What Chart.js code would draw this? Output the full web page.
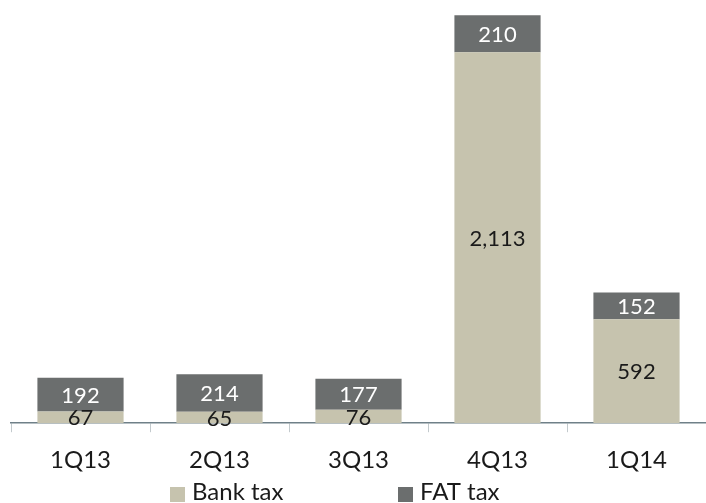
<!DOCTYPE html>
<html>
<head>
<meta charset="utf-8">
<script src="https://cdn.jsdelivr.net/npm/chart.js@4"></script>
<style>
  html, body { margin: 0; padding: 0; background: #fff; }
  #wrap { width: 706px; height: 503px; }
</style>
</head>
<body>
<div id="wrap"><canvas id="taxChart"></canvas></div>
<script>
var categories = ['1Q13', '2Q13', '3Q13', '4Q13', '1Q14'];
var bankTax = [67, 65, 76, 2113, 592];
var fatTax = [192, 214, 177, 210, 152];

var BANK_COLOR = '#c6c3ae';
var FAT_COLOR = '#6b6e6e';
var FONT = 'Lato, "Open Sans", sans-serif';

// value labels in the middle of each segment
var segmentLabels = {
  id: 'segmentLabels',
  afterDatasetsDraw: function (chart) {
    var ctx = chart.ctx;
    ctx.save();
    ctx.font = '22px ' + FONT;
    ctx.textAlign = 'center';
    ctx.textBaseline = 'middle';
    chart.data.datasets.forEach(function (ds, i) {
      var meta = chart.getDatasetMeta(i);
      meta.data.forEach(function (bar, j) {
        var y = (bar.y + bar.base) / 2;
        ctx.fillStyle = ds.labelColor;
        ctx.fillText(ds.data[j].toLocaleString('en-US'), bar.x, y + 1);
      });
    });
    ctx.restore();
  }
};

// legend laid out like the original (wide gap between entries)
var wideLegend = {
  id: 'wideLegend',
  afterDraw: function (chart) {
    var ctx = chart.ctx;
    var positions = [170, 398];
    ctx.save();
    ctx.font = '24px ' + FONT;
    ctx.textBaseline = 'alphabetic';
    ctx.textAlign = 'left';
    chart.data.datasets.forEach(function (ds, i) {
      var x = positions[i];
      ctx.fillStyle = ds.backgroundColor;
      ctx.fillRect(x, 487, 15, 15);
      ctx.fillStyle = '#1a1a1a';
      ctx.fillText(ds.label, x + 22, 500);
    });
    ctx.restore();
  }
};

var ctx = document.getElementById('taxChart').getContext('2d');
var taxChart = new Chart(ctx, {
  type: 'bar',
  data: {
    labels: categories,
    datasets: [
      {
        label: 'Bank tax',
        data: bankTax,
        backgroundColor: BANK_COLOR,
        labelColor: '#1a1a1a'
      },
      {
        label: 'FAT tax',
        data: fatTax,
        backgroundColor: FAT_COLOR,
        labelColor: '#ffffff'
      }
    ]
  },
  options: {
    responsive: true,
    maintainAspectRatio: false,
    animation: false,
    categoryPercentage: 1,
    barPercentage: 0.62,
    layout: {
      padding: { left: 11, right: 0, top: 0, bottom: 14 }
    },
    plugins: {
      legend: { display: false },
      tooltip: { enabled: false }
    },
    scales: {
      x: {
        stacked: true,
        border: { display: true, color: '#6f8088', width: 1.5 },
        grid: {
          display: true,
          drawOnChartArea: false,
          drawTicks: true,
          tickLength: 9,
          color: '#c3cacd',
          offset: true
        },
        ticks: {
          color: '#1a1a1a',
          padding: 14,
          font: { family: FONT, size: 24 }
        }
      },
      y: {
        stacked: true,
        display: false,
        min: 0,
        max: 2410
      }
    }
  },
  plugins: [segmentLabels, wideLegend]
});
</script>
</body>
</html>
